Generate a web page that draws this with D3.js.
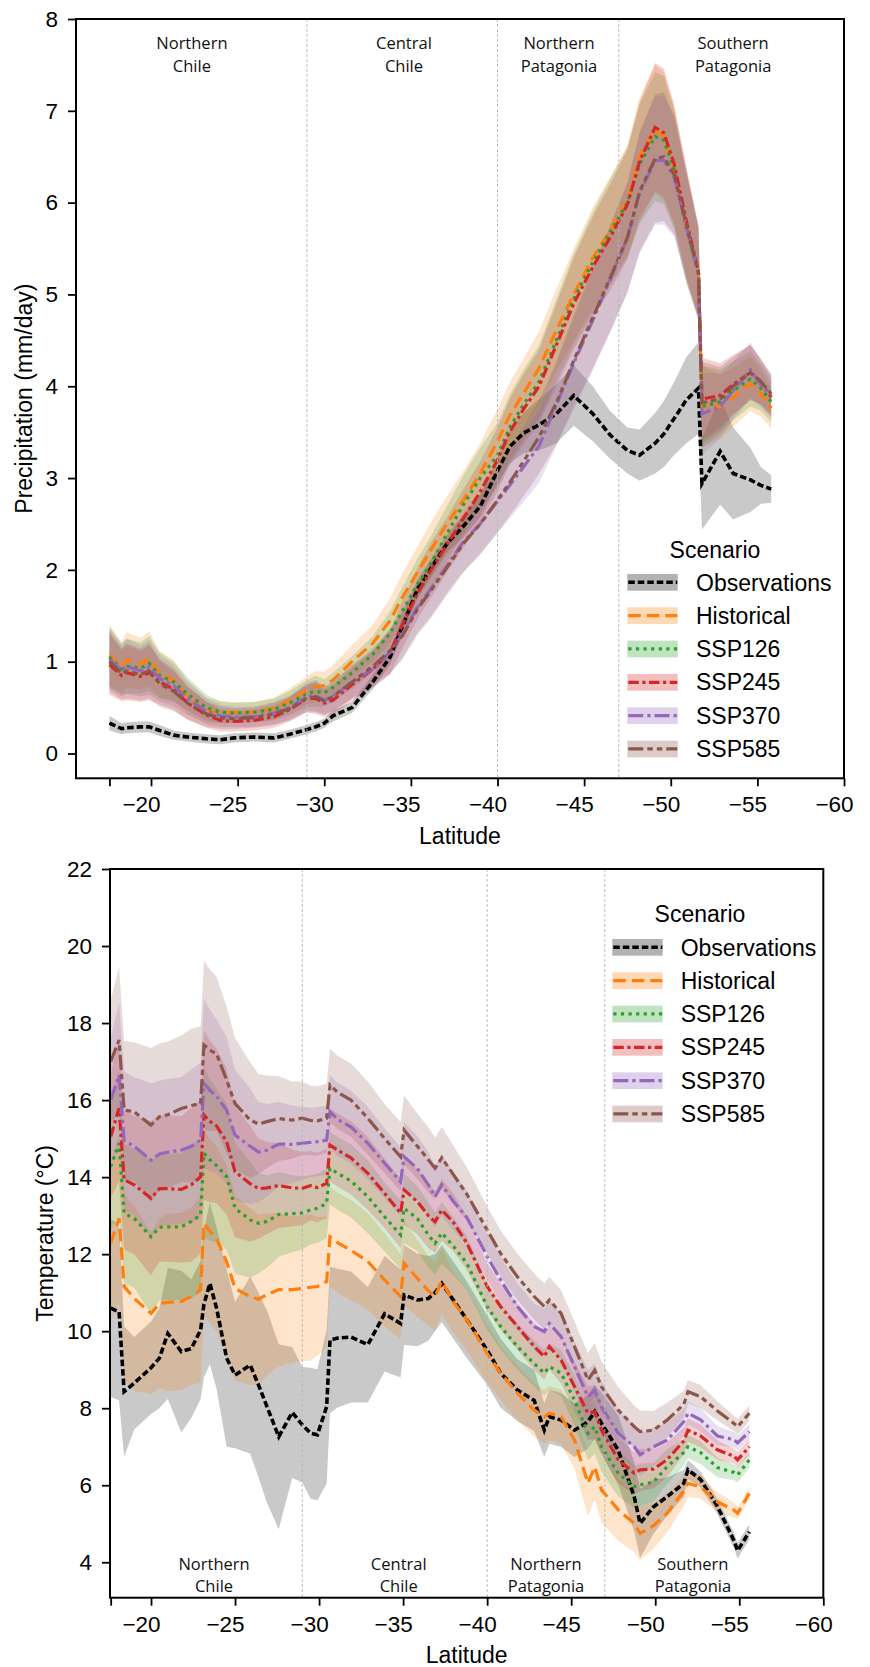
<!DOCTYPE html>
<html>
<head>
<meta charset="utf-8">
<script src="https://cdn.jsdelivr.net/npm/d3@7"></script>
<style>
  body { margin: 0; background: #fff; }
  svg { display: block; font-family: "Liberation Sans", Arial, sans-serif; }
</style>
</head>
<body>
<svg></svg>
<script>
const width = 870;
const height = 1667;

// ---- data: latitude grids ----
const latPr = [-17.6, -18.3, -18.6, -19.4, -19.9, -20.5, -21.3, -22.1, -23.2, -24.0,
  -24.8, -25.9, -27.1, -28.0, -29.0, -29.5, -30.0, -30.5, -31.6, -32.8,
  -33.8, -34.5, -35.4, -36.1, -37.1, -38.0, -39.0, -40.0, -40.7, -41.5,
  -42.4, -43.4, -44.4, -45.5, -46.5, -47.5, -48.2, -49.1, -49.6, -50.2,
  -50.9, -51.6, -51.8, -52.85, -53.6, -54.6, -55.2, -55.8];

const latT = [-17.6, -18.1, -18.4, -19.0, -20.0, -20.5, -21.0, -21.8, -22.4, -22.95,
  -23.15, -23.5, -23.9, -24.5, -25.0, -25.9, -26.4, -26.9, -27.6, -28.4,
  -29.0, -29.5, -29.9, -30.45, -30.65, -31.1, -31.9, -32.9, -33.9, -34.85,
  -35.06, -35.85, -36.5, -36.9, -37.3, -38.0, -38.8, -40.0, -40.8, -41.8,
  -42.8, -43.4, -43.7, -44.4, -45.2, -46.0, -46.4, -46.8, -47.8, -48.75,
  -49.1, -49.9, -50.7, -51.7, -51.95, -52.7, -53.7, -54.7, -54.9, -55.6];

// ---- precipitation (mm/day): mean and half-width of shaded range ----
const prObs = [0.33, 0.27, 0.28, 0.29, 0.29, 0.25, 0.20, 0.18, 0.16, 0.15,
  0.17, 0.18, 0.17, 0.21, 0.26, 0.29, 0.33, 0.41, 0.50, 0.78,
  1.05, 1.38, 1.80, 2.00, 2.29, 2.47, 2.69, 3.08, 3.34, 3.49,
  3.58, 3.70, 3.90, 3.70, 3.47, 3.30, 3.25, 3.38, 3.48, 3.65,
  3.85, 3.98, 2.94, 3.29, 3.05, 2.98, 2.92, 2.88];
const prObsSpread = [0.08, 0.06, 0.06, 0.06, 0.06, 0.06, 0.05, 0.05, 0.05, 0.05,
  0.05, 0.05, 0.05, 0.05, 0.05, 0.05, 0.05, 0.06, 0.06, 0.08,
  0.08, 0.10, 0.10, 0.10, 0.10, 0.12, 0.12, 0.15, 0.18, 0.22,
  0.28, 0.32, 0.33, 0.30, 0.26, 0.25, 0.28, 0.33, 0.36, 0.40,
  0.47, 0.50, 0.50, 0.58, 0.50, 0.35, 0.20, 0.15];
const prHist = [1.07, 0.94, 1.02, 0.98, 1.03, 0.87, 0.80, 0.62, 0.47, 0.45,
  0.45, 0.45, 0.49, 0.58, 0.69, 0.73, 0.74, 0.80, 1.00, 1.20,
  1.45, 1.70, 1.98, 2.20, 2.51, 2.75, 3.05, 3.40, 3.68, 3.92,
  4.20, 4.61, 5.00, 5.40, 5.70, 6.03, 6.50, 6.80, 6.72, 6.39,
  5.74, 5.23, 3.78, 3.78, 3.88, 4.03, 3.92, 3.76];
const prSsp126 = [1.05, 0.92, 0.95, 0.93, 0.98, 0.85, 0.78, 0.65, 0.50, 0.45,
  0.44, 0.45, 0.48, 0.55, 0.65, 0.68, 0.66, 0.72, 0.88, 1.08,
  1.31, 1.55, 1.85, 2.05, 2.40, 2.70, 3.00, 3.25, 3.55, 3.80,
  4.05, 4.50, 4.95, 5.35, 5.68, 6.00, 6.42, 6.72, 6.68, 6.36,
  5.72, 5.22, 3.78, 3.83, 3.95, 4.08, 3.98, 3.83];
const prSsp245 = [0.97, 0.85, 0.88, 0.84, 0.88, 0.78, 0.70, 0.55, 0.42, 0.36,
  0.35, 0.36, 0.40, 0.48, 0.60, 0.60, 0.55, 0.58, 0.75, 0.92,
  1.10, 1.40, 1.75, 1.98, 2.28, 2.55, 2.85, 3.20, 3.50, 3.75,
  4.00, 4.45, 4.90, 5.30, 5.62, 5.98, 6.45, 6.82, 6.76, 6.42,
  5.80, 5.25, 3.86, 3.90, 4.02, 4.15, 4.05, 3.88];
const prSsp370 = [1.03, 0.90, 0.95, 0.90, 0.94, 0.82, 0.74, 0.60, 0.46, 0.41,
  0.40, 0.40, 0.44, 0.50, 0.62, 0.63, 0.58, 0.62, 0.78, 0.92,
  1.10, 1.30, 1.60, 1.78, 2.05, 2.30, 2.50, 2.75, 2.92, 3.12,
  3.35, 3.80, 4.25, 4.72, 5.16, 5.62, 6.10, 6.46, 6.46, 6.28,
  5.74, 5.23, 3.70, 3.78, 3.95, 4.18, 4.02, 3.90];
const prSsp585 = [1.00, 0.87, 0.90, 0.86, 0.90, 0.76, 0.68, 0.55, 0.43, 0.39,
  0.38, 0.39, 0.43, 0.49, 0.60, 0.62, 0.57, 0.62, 0.78, 0.95,
  1.12, 1.28, 1.58, 1.76, 2.03, 2.28, 2.50, 2.76, 2.95, 3.18,
  3.45, 3.82, 4.28, 4.75, 5.18, 5.62, 6.12, 6.48, 6.50, 6.30,
  5.76, 5.24, 3.82, 3.86, 4.00, 4.15, 4.05, 3.92];
const prModelSpread = [0.33, 0.28, 0.30, 0.28, 0.30, 0.25, 0.22, 0.18, 0.14, 0.12,
  0.11, 0.11, 0.12, 0.13, 0.15, 0.17, 0.15, 0.16, 0.18, 0.20,
  0.24, 0.26, 0.28, 0.30, 0.30, 0.32, 0.33, 0.35, 0.36, 0.38,
  0.40, 0.45, 0.50, 0.55, 0.58, 0.60, 0.65, 0.70, 0.70, 0.65,
  0.60, 0.50, 0.45, 0.35, 0.32, 0.30, 0.25, 0.22];

// ---- temperature (°C): mean and half-width of shaded range ----
const tObs = [10.60, 10.50, 8.43, 8.65, 9.05, 9.30, 9.94, 9.47, 9.55, 10.03,
  10.70, 11.24, 10.60, 9.30, 8.86, 9.12, 8.60, 8.04, 7.26, 7.89,
  7.57, 7.35, 7.31, 8.04, 9.77, 9.82, 9.85, 9.65, 10.45, 10.20,
  10.94, 10.81, 10.85, 11.00, 11.24, 10.80, 10.29, 9.51, 8.91, 8.47,
  8.20, 7.43, 7.78, 7.69, 7.43, 7.65, 7.91, 7.61, 6.91, 5.70,
  5.01, 5.44, 5.70, 6.05, 6.40, 6.15, 5.45, 4.55, 4.30, 4.79];
const tObsSpread = [2.3, 2.3, 1.7, 1.2, 1.2, 1.3, 1.7, 2.1, 1.8, 1.8,
  1.9, 2.1, 2.1, 2.3, 1.9, 2.3, 2.4, 2.5, 2.4, 1.7,
  1.5, 1.7, 1.7, 2.0, 1.9, 1.8, 1.7, 1.5, 1.5, 1.4,
  1.3, 1.2, 1.1, 1.0, 1.0, 1.0, 1.0, 0.9, 0.9, 0.8,
  0.8, 0.7, 0.7, 0.7, 0.7, 0.7, 0.7, 0.8, 0.9, 0.9,
  0.9, 0.7, 0.5, 0.35, 0.25, 0.2, 0.2, 0.2, 0.2, 0.2];
const tHist = [12.28, 12.93, 11.16, 10.85, 10.46, 10.72, 10.75, 10.77, 10.90, 11.07,
  12.80, 12.60, 12.40, 11.80, 11.11, 10.90, 10.83, 10.95, 11.08, 11.08,
  11.11, 11.14, 11.16, 11.29, 12.45, 12.30, 12.10, 11.81, 11.33, 10.90,
  11.76, 11.37, 11.05, 10.90, 11.30, 10.75, 10.29, 9.42, 8.91, 8.39,
  7.95, 7.78, 7.87, 7.78, 7.17, 6.05, 6.48, 5.88, 5.36, 5.01,
  4.75, 4.95, 5.27, 5.85, 6.05, 5.95, 5.57, 5.35, 5.27, 5.79];
const tHistSpread = [2.0, 2.2, 2.4, 2.4, 2.1, 2.2, 2.3, 2.3, 2.3, 2.4,
  2.4, 2.4, 2.4, 2.5, 2.4, 2.3, 2.2, 2.1, 2.0, 1.9,
  1.9, 1.9, 1.8, 1.7, 1.3, 1.3, 1.3, 1.25, 1.2, 1.1,
  1.1, 1.0, 0.9, 0.9, 0.85, 0.8, 0.8, 0.75, 0.7, 0.7,
  0.7, 0.7, 0.7, 0.7, 0.75, 0.85, 0.85, 0.85, 0.8, 0.75,
  0.7, 0.6, 0.5, 0.4, 0.35, 0.3, 0.25, 0.2, 0.15, 0.15];
const tSsp126 = [14.27, 14.88, 13.06, 12.93, 12.45, 12.70, 12.71, 12.71, 12.85, 13.02,
  14.62, 14.45, 14.30, 14.01, 13.19, 12.89, 12.80, 12.85, 13.03, 13.05,
  13.07, 13.15, 13.19, 13.32, 14.23, 14.10, 13.90, 13.49, 12.97, 12.50,
  13.19, 12.92, 12.50, 12.28, 12.55, 12.20, 11.76, 10.64, 10.12, 9.60,
  9.16, 8.91, 9.08, 8.91, 8.21, 7.35, 7.52, 7.00, 6.31, 5.96,
  6.01, 6.08, 6.48, 6.85, 7.00, 6.85, 6.46, 6.33, 6.27, 6.66];
const tSsp245 = [15.05, 15.79, 13.93, 13.80, 13.45, 13.70, 13.70, 13.68, 13.80, 14.01,
  15.61, 15.45, 15.33, 14.92, 14.14, 13.83, 13.70, 13.72, 13.78, 13.72,
  13.71, 13.78, 13.73, 13.84, 14.83, 14.70, 14.50, 14.10, 13.58, 13.06,
  13.67, 13.36, 13.00, 12.84, 13.15, 12.82, 12.28, 11.16, 10.64, 10.12,
  9.60, 9.34, 9.60, 9.25, 8.56, 7.87, 7.91, 7.43, 6.66, 6.31,
  6.40, 6.42, 6.66, 7.15, 7.43, 7.28, 6.92, 6.75, 6.66, 7.00];
const tSsp370 = [16.00, 16.65, 14.95, 14.80, 14.44, 14.60, 14.65, 14.70, 14.80, 14.96,
  16.43, 16.26, 16.09, 15.74, 15.09, 14.80, 14.65, 14.70, 14.86, 14.85,
  14.88, 14.90, 14.92, 14.96, 15.70, 15.50, 15.30, 14.88, 14.36, 13.88,
  14.53, 14.22, 13.80, 13.49, 13.80, 13.36, 12.95, 11.94, 11.33, 10.64,
  10.12, 9.99, 10.20, 9.86, 9.08, 8.30, 8.47, 8.04, 7.35, 7.00,
  6.79, 7.00, 7.17, 7.65, 7.87, 7.70, 7.28, 7.18, 7.10, 7.39];
const tSsp585 = [17.00, 17.56, 15.74, 15.70, 15.35, 15.57, 15.62, 15.78, 15.86, 15.91,
  17.43, 17.30, 17.20, 16.52, 15.91, 15.48, 15.38, 15.44, 15.52, 15.48,
  15.53, 15.47, 15.46, 15.53, 16.39, 16.20, 16.00, 15.53, 15.00, 14.53,
  15.22, 14.80, 14.45, 14.23, 14.50, 14.06, 13.55, 12.63, 12.02, 11.41,
  10.90, 10.64, 10.81, 10.46, 9.60, 8.73, 8.99, 8.56, 7.95, 7.52,
  7.39, 7.43, 7.69, 8.10, 8.43, 8.30, 7.93, 7.60, 7.52, 7.87];
const tSspSpread = [1.6, 1.9, 1.8, 1.8, 2.0, 1.9, 1.9, 1.9, 2.0, 2.0,
  2.2, 2.1, 2.0, 1.9, 1.7, 1.5, 1.3, 1.2, 1.1, 1.0,
  0.95, 0.9, 0.9, 0.9, 0.95, 0.95, 0.95, 0.95, 0.9, 0.9,
  0.9, 0.85, 0.85, 0.8, 0.8, 0.75, 0.7, 0.6, 0.6, 0.6,
  0.6, 0.6, 0.6, 0.6, 0.65, 0.7, 0.7, 0.65, 0.6, 0.55,
  0.55, 0.5, 0.45, 0.35, 0.3, 0.3, 0.25, 0.2, 0.2, 0.2];

// ---- labels, ticks ----
const scenarios = ["Observations", "Historical", "SSP126", "SSP245", "SSP370", "SSP585"];
const regionNames = [["Northern", "Chile"], ["Central", "Chile"], ["Northern", "Patagonia"], ["Southern", "Patagonia"]];
const regionBounds = [-29, -40, -47];
const regionLabelLatPr = [-22.36, -34.6, -43.55, -53.6];
const regionLabelLatT = [-23.75, -34.74, -43.5, -52.24];
const latTicks = [-17.6, -20, -25, -30, -35, -40, -45, -50, -55, -60];
const prTicks = [0, 1, 2, 3, 4, 5, 6, 7, 8];
const tTicks = [4, 6, 8, 10, 12, 14, 16, 18, 20, 22];

// line styles (matplotlib tab10)
const styles = {
  Observations: { color: "#000000", dash: "6.5,3", width: 3.6 },
  Historical:   { color: "#ff7f0e", dash: "12.5,6", width: 3.2 },
  SSP126:       { color: "#2ca02c", dash: "3.2,4.4", width: 3.2 },
  SSP245:       { color: "#d62728", dash: "10.5,3.5,3.2,3.5", width: 3.2 },
  SSP370:       { color: "#9467bd", dash: "15,4,3.2,4", width: 3.2 },
  SSP585:       { color: "#8c564b", dash: "15,4,5.5,4,5.5,4", width: 3.2 }
};

const svg = d3.select("svg")
  .attr("width", width)
  .attr("height", height);

function drawPanel(p) {
  const g = svg.append("g");
  const x = d3.scaleLinear().domain(p.xDomain).range([p.left, p.right]);
  const y = d3.scaleLinear().domain(p.yDomain).range([p.bottom, p.top]);

  g.append("clipPath").attr("id", p.id)
    .append("rect")
    .attr("x", p.left).attr("y", p.top)
    .attr("width", p.right - p.left).attr("height", p.bottom - p.top);

  const plot = g.append("g").attr("clip-path", `url(#${p.id})`);

  const series = scenarios.map((name, k) => ({
    name,
    pts: p.lat.map((lat, i) => ({ lat, m: p.means[k][i], s: p.spreads[k][i] }))
  }));

  // bands first (matplotlib draws collections under lines)
  const area = d3.area()
    .x(d => x(d.lat))
    .y0(d => y(d.m - d.s))
    .y1(d => y(d.m + d.s));
  series.forEach(s => {
    plot.append("path")
      .attr("d", area(s.pts))
      .attr("fill", styles[s.name].color)
      .attr("fill-opacity", 0.21);
  });

  // region dividers
  regionBounds.forEach(b => {
    g.append("line")
      .attr("x1", x(b)).attr("x2", x(b))
      .attr("y1", p.top).attr("y2", p.bottom)
      .attr("stroke", "#b5b5b5")
      .attr("stroke-width", 0.9)
      .attr("stroke-dasharray", "3,2");
  });

  const line = d3.line().x(d => x(d.lat)).y(d => y(d.m));
  series.forEach(s => {
    const st = styles[s.name];
    plot.append("path")
      .attr("d", line(s.pts))
      .attr("fill", "none")
      .attr("stroke", st.color)
      .attr("stroke-width", st.width)
      .attr("stroke-dasharray", st.dash);
  });

  // region labels
  regionNames.forEach((r, i) => {
    const t = g.append("text")
      .attr("x", x(p.regionLat[i]))
      .attr("y", p.regionY)
      .attr("text-anchor", "middle")
      .style("font-family", "'Open Sans', sans-serif")
      .style("font-size", "16.5px")
      .attr("fill", "#111");
    t.append("tspan").attr("x", x(p.regionLat[i])).text(r[0]);
    t.append("tspan").attr("x", x(p.regionLat[i])).attr("dy", 22.4).text(r[1]);
  });

  // axes
  const xAxis = d3.axisBottom(x)
    .tickValues(latTicks)
    .tickSize(8).tickSizeOuter(0).tickPadding(10)
    .tickFormat(d => d % 5 === 0 ? d3.format("d")(d) : "");
  const gx = g.append("g")
    .attr("transform", `translate(0,${p.bottom})`)
    .call(xAxis);
  gx.select(".domain").remove();
  gx.selectAll(".tick line").attr("stroke", "#000").attr("stroke-width", 1.8);
  gx.selectAll(".tick text")
    .attr("dx", -10)
    .attr("fill", "#000")
    .style("font-family", "'Liberation Sans', Arial, sans-serif")
    .style("font-size", "22.5px");

  const yAxis = d3.axisLeft(y)
    .tickValues(p.yTicks)
    .tickSize(8).tickSizeOuter(0).tickPadding(10)
    .tickFormat(d3.format("d"));
  const gy = g.append("g")
    .attr("transform", `translate(${p.left},0)`)
    .call(yAxis);
  gy.select(".domain").remove();
  gy.selectAll(".tick line").attr("stroke", "#000").attr("stroke-width", 1.8);
  gy.selectAll(".tick text")
    .attr("fill", "#000")
    .style("font-family", "'Liberation Sans', Arial, sans-serif")
    .style("font-size", "22.5px");

  // spines
  g.append("rect")
    .attr("x", p.left).attr("y", p.top)
    .attr("width", p.right - p.left).attr("height", p.bottom - p.top)
    .attr("fill", "none")
    .attr("stroke", "#000")
    .attr("stroke-width", 2);

  // axis titles
  g.append("text")
    .attr("x", (p.left + p.right) / 2)
    .attr("y", p.xTitleY)
    .attr("text-anchor", "middle")
    .style("font-size", "23px")
    .text("Latitude");

  g.append("text")
    .attr("transform", `translate(${p.yTitleX},${(p.top + p.bottom) / 2}) rotate(-90)`)
    .attr("text-anchor", "middle")
    .style("font-size", "23px")
    .text(p.yTitle);

  // legend
  const lg = g.append("g");
  lg.append("text")
    .attr("x", p.legend.titleX)
    .attr("y", p.legend.titleY)
    .attr("text-anchor", "middle")
    .style("font-size", "23px")
    .text("Scenario");
  scenarios.forEach((name, i) => {
    const st = styles[name];
    const cy = p.legend.rowY + i * 33.33;
    lg.append("rect")
      .attr("x", p.legend.handleX).attr("y", cy - 8.3)
      .attr("width", 50.4).attr("height", 16.7)
      .attr("fill", st.color).attr("fill-opacity", 0.3);
    lg.append("line")
      .attr("x1", p.legend.handleX + 1).attr("x2", p.legend.handleX + 50)
      .attr("y1", cy).attr("y2", cy)
      .attr("stroke", st.color)
      .attr("stroke-width", st.width)
      .attr("stroke-dasharray", st.dash);
    lg.append("text")
      .attr("x", p.legend.textX)
      .attr("y", cy + 8.2)
      .style("font-size", "23px")
      .text(name);
  });
}

drawPanel({
  id: "clip-pr",
  left: 76, right: 844, top: 19, bottom: 778.3,
  xDomain: [-15.67, -60], yDomain: [-0.27, 8],
  yTicks: prTicks,
  lat: latPr,
  means: [prObs, prHist, prSsp126, prSsp245, prSsp370, prSsp585],
  spreads: [prObsSpread, prModelSpread, prModelSpread, prModelSpread, prModelSpread, prModelSpread],
  regionLat: regionLabelLatPr, regionY: 49.3,
  xTitleY: 843.5,
  yTitle: "Precipitation (mm/day)", yTitleX: 32.3,
  legend: { titleX: 715, titleY: 558.3, rowY: 582.3, handleX: 627.3, textX: 696 }
});

drawPanel({
  id: "clip-t",
  left: 110, right: 823.3, top: 869, bottom: 1597.7,
  xDomain: [-17.56, -60], yDomain: [3.08, 22],
  yTicks: tTicks,
  lat: latT,
  means: [tObs, tHist, tSsp126, tSsp245, tSsp370, tSsp585],
  spreads: [tObsSpread, tHistSpread, tSspSpread, tSspSpread, tSspSpread, tSspSpread],
  regionLat: regionLabelLatT, regionY: 1570,
  xTitleY: 1663,
  yTitle: "Temperature (°C)", yTitleX: 52.5,
  legend: { titleX: 700, titleY: 921.7, rowY: 947.3, handleX: 612.3, textX: 680.7 }
});
</script>
</body>
</html>
